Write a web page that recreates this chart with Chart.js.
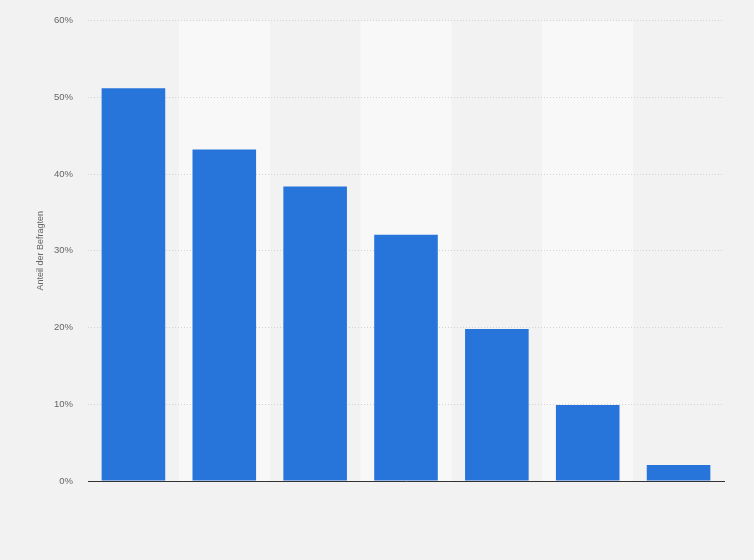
<!DOCTYPE html>
<html lang="de">
<head>
  <meta charset="UTF-8">
  <title>Anteil der Befragten</title>
  <style>
    * { margin: 0; padding: 0; box-sizing: border-box; }
    body { background: #f2f2f2; width: 754px; height: 560px; overflow: hidden; }
    .chart-box { position: relative; width: 754px; height: 560px; }
  </style>
  <script src="https://cdn.jsdelivr.net/npm/chart.js"></script>
</head>
<body>
  <div class="chart-box">
    <canvas id="barChart" width="754" height="560"></canvas>
  </div>

  <script>
    // Values (no category labels are shown)
    const categories = ['1', '2', '3', '4', '5', '6', '7'];
    const shares = [51.2, 43.2, 38.4, 32.1, 19.8, 9.9, 2.1];
    const yTicks = [0, 10, 20, 30, 40, 50, 60];

    // Lighter band behind every second category
    const bandPlugin = {
      id: 'bands',
      beforeDraw(chart) {
        const { ctx, chartArea, scales } = chart;
        const x = scales.x;
        const step = x.width / categories.length;
        ctx.save();
        ctx.fillStyle = '#f8f8f8';
        categories.forEach((c, i) => {
          if (i % 2 === 1) {
            const left = x.getPixelForValue(i) - step / 2;
            ctx.fillRect(left, chartArea.top, step, chartArea.bottom - chartArea.top);
          }
        });
        ctx.restore();
      }
    };

    const ctx = document.getElementById('barChart').getContext('2d');
    new Chart(ctx, {
      type: 'bar',
      data: {
        labels: categories,
        datasets: [{
          data: shares,
          backgroundColor: '#2775db',
          borderWidth: 0,
          categoryPercentage: 0.7,
          barPercentage: 1
        }]
      },
      options: {
        responsive: false,
        animation: false,
        devicePixelRatio: 1,
        layout: { padding: { top: 20, right: 30, bottom: 0, left: 0 } },
        plugins: { legend: { display: false }, tooltip: { enabled: false } },
        scales: {
          x: {
            grid: { display: false, drawTicks: false },
            border: { display: true, color: '#333333', width: 1 },
            ticks: { display: false },
            afterFit(s) { s.height = 79; }
          },
          y: {
            min: 0,
            max: 60,
            afterBuildTicks(s) { s.ticks = yTicks.map(v => ({ value: v })); },
            afterFit(s) { s.width = 88; },
            border: { display: false, dash: [1, 2] },
            grid: { color: '#d2d2d2', drawTicks: false, lineWidth: 1 },
            ticks: {
              autoSkip: false,
              padding: 15,
              color: '#666666',
              font: { family: 'Arial, "Liberation Sans", sans-serif', size: 9.5 },
              callback: v => v + '%'
            },
            title: {
              display: true,
              text: 'Anteil der Befragten',
              color: '#666666',
              padding: { top: 35, bottom: 0 },
              font: { family: 'Arial, "Liberation Sans", sans-serif', size: 9 }
            }
          }
        }
      },
      plugins: [bandPlugin]
    });
  </script>
</body>
</html>
